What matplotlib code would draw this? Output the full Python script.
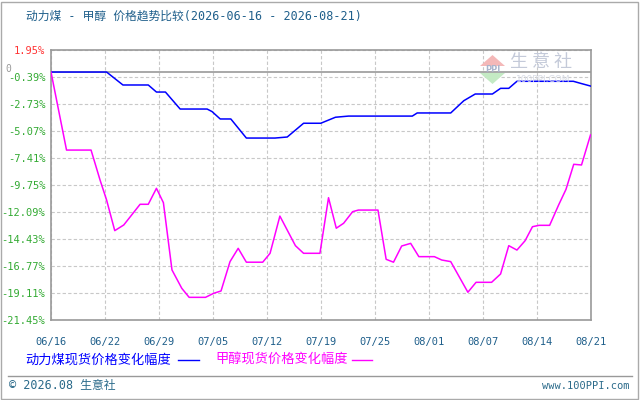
import matplotlib
matplotlib.use("Agg")
from matplotlib import pyplot as plt
from matplotlib.patches import Polygon, Rectangle
from matplotlib.lines import Line2D

plt.rcParams['font.family'] = ['Noto Sans CJK SC', 'DejaVu Sans']
MONO = ['DejaVu Sans Mono', 'Noto Sans CJK SC']

# days counted from 2026-06-16
coal_days = [0, 6.8, 8.8, 11.9, 12.9, 14, 15.8, 19.1, 19.7, 20.7, 22, 23.9, 27.4, 28.9,
             30.9, 33, 34.8, 36.4, 44.2, 44.8, 48.9, 50.5, 51.9, 54, 55, 56, 57, 63.9,
             64.8, 66]
coal_vals = [0, 0, -1.12, -1.12, -1.73, -1.73, -3.20, -3.20, -3.42, -4.06, -4.06, -5.71,
             -5.71, -5.62, -4.43, -4.43, -3.91, -3.81, -3.81, -3.54, -3.54, -2.48, -1.90,
             -1.90, -1.41, -1.41, -0.80, -0.80, -0.98, -1.21]

meth_days = [0, 1.9, 4.9, 6, 6.8, 7.8, 8.9, 10.9, 11.9, 12.9, 13.75, 14.8, 16, 16.9,
             18.9, 19.9, 20.8, 21.9, 22.9, 23.9, 25.9, 26.8, 28, 29.9, 30.9, 32.9, 33.95,
             34.9, 35.8, 36.9, 37.6, 40, 41, 41.9, 42.9, 44, 45, 46.9, 47.8, 48.9, 51,
             52, 53.9, 55, 56, 57, 58, 58.9, 59.7, 61, 62.1, 63, 63.95, 64.9, 66]
meth_vals = [0, -6.75, -6.75, -9.34, -11.07, -13.72, -13.23, -11.44, -11.44, -10.06,
             -11.30, -17.12, -18.71, -19.49, -19.49, -19.14, -18.94, -16.40, -15.25,
             -16.45, -16.45, -15.68, -12.46, -15.02, -15.68, -15.68, -10.87, -13.51,
             -13.08, -12.08, -11.94, -11.94, -16.20, -16.45, -15.05, -14.82, -15.97,
             -15.97, -16.26, -16.40, -19.05, -18.19, -18.19, -17.47, -15.02, -15.40,
             -14.59, -13.38, -13.26, -13.26, -11.50, -10.15, -7.98, -8.04, -5.44]

x_labels = ['06/16', '06/22', '06/29', '07/05', '07/12', '07/19', '07/25',
            '08/01', '08/07', '08/14', '08/21']
y_ticks = [1.95, -0.39, -2.73, -5.07, -7.41, -9.75, -12.09, -14.43, -16.77, -19.11, -21.45]

fig = plt.figure(figsize=(6.4, 4.0), dpi=100)
ax = fig.add_axes([51/640, 1 - 320/400, 539.5/640, 270.5/400])

x_ticks = [i * 6.6 for i in range(len(x_labels))]
ax.set_xlim(0, 66)
ax.set_ylim(y_ticks[-1], y_ticks[0])
ax.set_xticks(x_ticks)
ax.set_xticklabels(x_labels, color='#1f5f8b', fontsize=7.5, family=MONO)
ax.set_yticks(y_ticks)
ax.set_yticklabels(['%.2f%%' % v for v in y_ticks], fontsize=7.5, family=MONO)
for i, t in enumerate(ax.get_yticklabels()):
    t.set_color('#ff3333' if i == 0 else '#33aa33')
ax.tick_params(length=0, pad=4)
ax.tick_params(axis='x', pad=12)
ax.grid(True, color='#c8c8c8', linestyle=(0, (3, 2)), linewidth=0.8)
for s in ax.spines.values():
    s.set_color('#999999')
    s.set_linewidth(1.2)
ax.axhline(0, color='#999999', linewidth=1.2, zorder=2)
fig.text(5/640, 1-69/400, '0', color='#999999', fontsize=7, ha='left', va='center',
         family=MONO)

# watermark
wm = dict(transform=fig.transFigure, zorder=1)
fig.patches.append(Polygon([[480/640, 1-66/400], [505/640, 1-66/400], [492.5/640, 1-55/400]],
                           closed=True, facecolor='#f4b8b8', edgecolor='none', **wm))
fig.patches.append(Polygon([[480/640, 1-73/400], [505/640, 1-73/400], [492.5/640, 1-84/400]],
                           closed=True, facecolor='#c4eac4', edgecolor='none', **wm))
fig.text(492.5/640, 1-69.5/400, 'PPI', color='#aab4cc', fontsize=6, ha='center', va='center',
         weight='bold', family='DejaVu Sans')
fig.text(541/640, 1-62/400, '生 意 社', color='#c4cad9', fontsize=13, ha='center', va='center')
fig.text(543/640, 1-80/400, '100PPI.COM', color='#d8dce6', fontsize=6.5, ha='center',
         va='center', family='DejaVu Sans')

ax.plot(coal_days, coal_vals, color='#0000ff', linewidth=1.1, zorder=3)
ax.plot(meth_days, meth_vals, color='#ff00ff', linewidth=1.1, zorder=3)

fig.text(26/640, 1-16/400, '动力煤 - 甲醇 价格趋势比较(2026-06-16 - 2026-08-21)',
         color='#1f5f8b', fontsize=8.5, ha='left', va='center', family=MONO)

# legend
fig.text(25/640, 1-360/400, '动力煤现货价格变化幅度', color='#0000ff', fontsize=9.5,
         ha='left', va='center')
fig.add_artist(Line2D([178/640, 199/640], [1-360/400, 1-360/400], color='#0000ff', linewidth=1))
fig.text(215/640, 1-360/400, '甲醇现货价格变化幅度', color='#ff00ff', fontsize=9.5,
         ha='left', va='center')
fig.add_artist(Line2D([352/640, 372/640], [1-360/400, 1-360/400], color='#ff00ff', linewidth=1))

# footer
fig.add_artist(Line2D([8/640, 632/640], [1-376/400, 1-376/400], color='#999999', linewidth=1))
fig.text(9/640, 1-386/400, '© 2026.08 生意社', color='#2a6a8a', fontsize=8.5, ha='left',
         va='center', family=MONO)
fig.text(630/640, 1-386/400, 'www.100PPI.com', color='#2a6a8a', fontsize=7.5, ha='right',
         va='center', family=MONO)
fig.patches.append(Rectangle((1/640, 1/400), 637/640, 397/400, transform=fig.transFigure,
                             fill=False, edgecolor='#aaaaaa', linewidth=1))

fig.savefig('out.png', dpi=100)
